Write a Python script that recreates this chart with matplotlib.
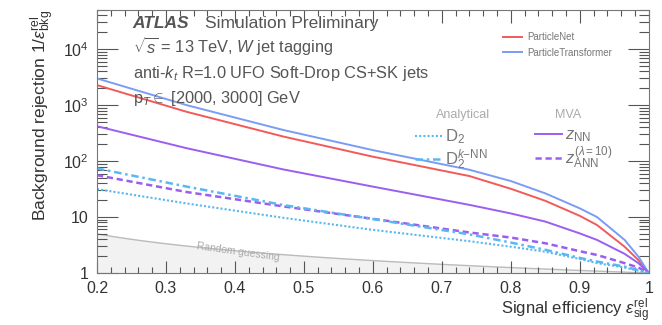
import numpy as np
import matplotlib.pyplot as plt
from matplotlib.ticker import MultipleLocator, LogLocator, NullFormatter, FixedLocator

plt.rcParams['font.family'] = ['Liberation Sans', 'DejaVu Sans']
plt.rcParams['mathtext.fontset'] = 'custom'
plt.rcParams['mathtext.rm'] = 'Liberation Sans'
plt.rcParams['mathtext.it'] = 'Liberation Sans:italic'

# signal efficiency points
eff = [0.2, 0.33, 0.47, 0.6, 0.74, 0.8, 0.85, 0.9, 0.925, 0.965, 0.985, 1.0]

# background rejection
particle_net = [2280, 760, 275, 120, 54, 32, 19.5, 10.5, 7.2, 2.95, 1.7, 1.0]
particle_transformer = [3000, 1000, 360, 157, 70, 44, 26.5, 14.3, 10, 3.9, 1.96, 1.0]
z_nn = [420, 170, 71, 35, 16.5, 11.6, 8.3, 5.1, 3.9, 2.2, 1.5, 1.0]
z_ann = [56, 28, 15.5, 9.3, 5.3, 4.3, 3.4, 2.45, 2.1, 1.5, 1.25, 1.0]
d2_knn = [74, 35, 16.4, 9.2, 4.9, 3.5, 2.6, 1.86, 1.6, 1.3, 1.12, 1.0]
d2 = [31.6, 17.5, 9.7, 5.9, 3.7, 2.95, 2.4, 1.78, 1.5, 1.25, 1.1, 1.0]

c_red = '#f25a5a'
c_blue = '#7a9cf5'
c_purple = '#9b5ef0'
c_lblue = '#5ab8f0'
c_text = '#555555'

fig = plt.figure(figsize=(6.62, 3.25), dpi=100)
ax = fig.add_axes([0.1465, 0.16, 0.8335, 0.809])

x_rand = np.linspace(0.2, 1.0, 100)
ax.fill_between(x_rand, 1, 1 / x_rand, color='#f2f2f2', zorder=0)
ax.plot(x_rand, 1 / x_rand, color='#bbbbbb', lw=1, zorder=1)
ax.text(0.405, 2.35, 'Random guessing', color='#aaaaaa', fontsize=7.5,
        rotation=-8, ha='center', va='center')

l_net, = ax.plot(eff, particle_net, color=c_red, lw=1.4, label='ParticleNet')
l_tr, = ax.plot(eff, particle_transformer, color=c_blue, lw=1.4,
                label='ParticleTransformer')
l_znn, = ax.plot(eff, z_nn, color=c_purple, lw=1.4)
l_zann, = ax.plot(eff, z_ann, color=c_purple, lw=1.8, ls=(0, (2.5, 1.5)))
l_d2knn, = ax.plot(eff, d2_knn, color=c_lblue, lw=1.8, ls=(0, (3, 1.5, 1, 1.5)))
l_d2, = ax.plot(eff, d2, color=c_lblue, lw=1.5, ls=(0, (1, 1)))

ax.set_xlim(0.2, 1.0)
ax.set_ylim(1, 5e4)
ax.set_yscale('log')

ax.xaxis.set_minor_locator(MultipleLocator(0.02))
ax.set_xticks([0.2, 0.3, 0.4, 0.5, 0.6, 0.7, 0.8, 0.9, 1.0])
ax.set_xticklabels(['0.2', '0.3', '0.4', '0.5', '0.6', '0.7', '0.8', '0.9', '1'])
ax.yaxis.set_major_locator(FixedLocator([1, 10, 100, 1000, 10000]))
ax.set_yticklabels(['1', '10', r'$10^2$', r'$10^3$', r'$10^4$'])
ax.yaxis.set_minor_locator(LogLocator(base=10, subs=np.arange(2, 10), numticks=20))
ax.yaxis.set_minor_formatter(NullFormatter())
ax.tick_params(which='both', direction='in', top=True, right=True,
               labelsize=11.5, colors='#555555', labelcolor='#333333', width=0.8)
ax.tick_params(axis='x', which='major', length=9, pad=6)
ax.tick_params(axis='x', which='minor', length=4.5)
ax.tick_params(axis='y', which='major', length=15, pad=6)
ax.tick_params(axis='y', which='minor', length=7)
for s in ax.spines.values():
    s.set_color('#777777')

ax.set_xlabel(r'Signal efficiency $\epsilon^{\rm rel}_{\rm sig}$', fontsize=12,
              color='#333333', loc='right', labelpad=0)
ax.set_ylabel(r'Background rejection 1/$\epsilon^{\rm rel}_{\rm bkg}$', fontsize=12.5,
              color='#333333', loc='top', labelpad=4)

tr = ax.transAxes
ax.text(0.065, 0.93, 'ATLAS', transform=tr, fontsize=12.5, fontweight='bold',
        style='italic', color=c_text)
ax.text(0.195, 0.93, 'Simulation Preliminary', transform=tr, fontsize=12.5, color=c_text)
ax.text(0.065, 0.835, r'$\sqrt{s}$ = 13 TeV, $W$ jet tagging', transform=tr,
        fontsize=11.8, color=c_text)
ax.text(0.065, 0.74, r'anti-$k_{t}$ R=1.0 UFO Soft-Drop CS+SK jets', transform=tr,
        fontsize=11.8, color=c_text)
ax.text(0.065, 0.645, r'p$_{T}$$\in$ [2000, 3000] GeV', transform=tr,
        fontsize=11.8, color=c_text)

leg1 = ax.legend(handles=[l_net, l_tr], loc='upper left', bbox_to_anchor=(0.72, 0.95),
                 frameon=False, fontsize=7, labelcolor='#777777', handlelength=2.0,
                 handletextpad=0.5, labelspacing=0.6)
ax.add_artist(leg1)

ax.text(0.615, 0.59, 'Analytical', transform=tr, fontsize=9, color='#aaaaaa')
ax.text(0.83, 0.59, 'MVA', transform=tr, fontsize=9, color='#aaaaaa')
leg2 = ax.legend(handles=[l_d2, l_d2knn], labels=[r'D$_2$', r'D$_2^{k\mathrm{-NN}}$'],
                 loc='upper left', bbox_to_anchor=(0.55, 0.61), frameon=False,
                 fontsize=12, labelcolor='#777777', handlelength=1.6,
                 handletextpad=0.2, labelspacing=0.05)
ax.add_artist(leg2)
ax.legend(handles=[l_znn, l_zann], labels=[r'$z_{\rm NN}$', r'$z_{\rm ANN}^{(\lambda=10)}$'],
          loc='upper left', bbox_to_anchor=(0.767, 0.61), frameon=False,
          fontsize=12, labelcolor='#777777', handlelength=1.6,
          handletextpad=0.2, labelspacing=0.05)

fig.savefig('out.png', dpi=100)
